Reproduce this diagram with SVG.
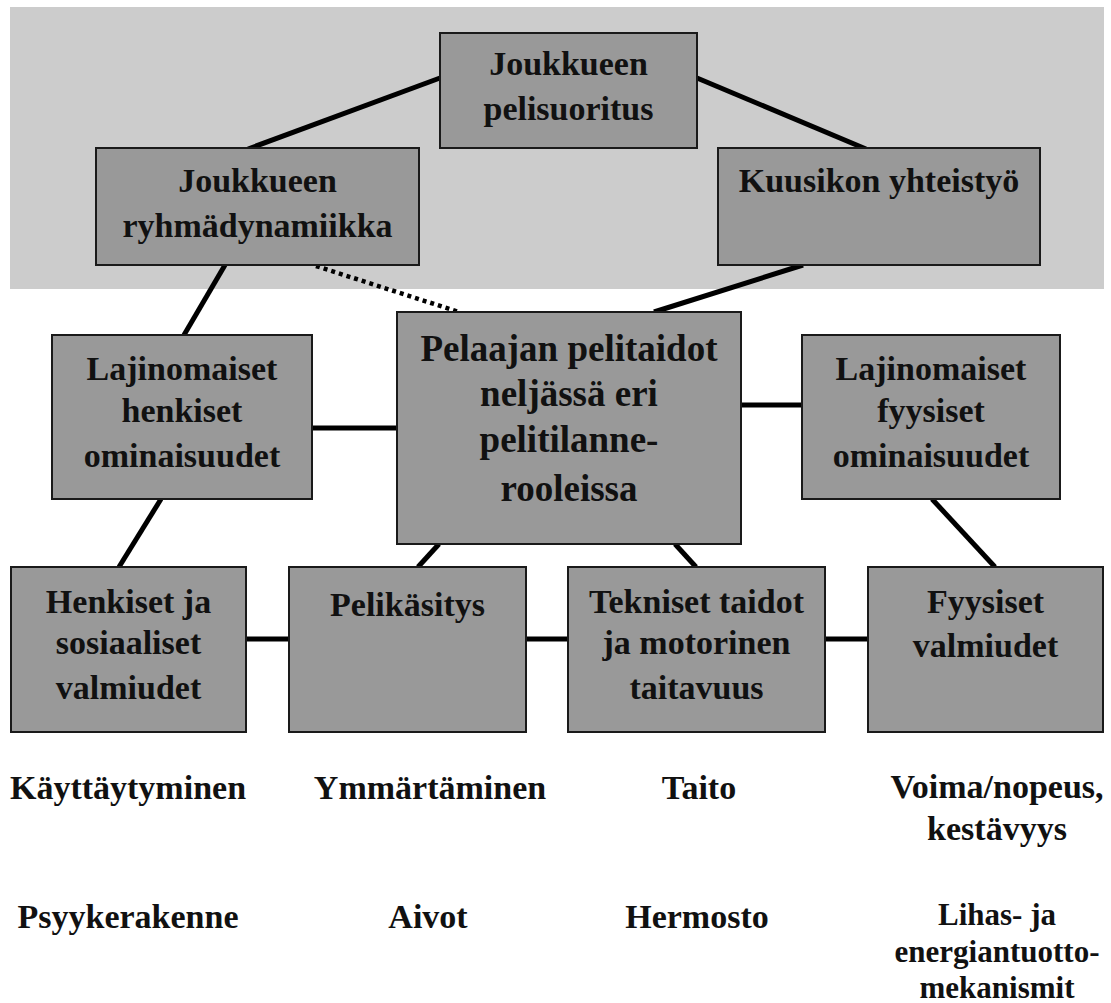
<svg xmlns="http://www.w3.org/2000/svg" width="1111" height="1003" viewBox="0 0 1111 1003">
<style>
.bg{fill:#cccccc}
.box{fill:#999999;stroke:#1a1a1a;stroke-width:2}
.t{font-family:"Liberation Serif","Times New Roman",serif;font-weight:bold;font-size:34px;fill:#111;text-anchor:middle}
.big{font-size:37px}
.sm{font-size:31px}
.c{stroke:#000;stroke-width:5;fill:none}
.d{stroke:#000;stroke-width:4.5;fill:none;stroke-dasharray:4 4}
</style>
<rect width="1111" height="1003" fill="#ffffff"/>
<rect class="bg" x="10" y="7" width="1094" height="282"/>
<g id="connectors">
<line class="c" x1="440" y1="78" x2="248" y2="149"/>
<line class="c" x1="697" y1="78" x2="866" y2="149"/>
<line class="c" x1="225" y1="265" x2="184" y2="335"/>
<line class="d" x1="316" y1="266" x2="459" y2="312"/>
<line class="c" x1="803" y1="265" x2="654" y2="312"/>
<line class="c" x1="312" y1="428" x2="397" y2="428"/>
<line class="c" x1="740" y1="405" x2="802" y2="405"/>
<line class="c" x1="161" y1="499" x2="119" y2="567"/>
<line class="c" x1="439" y1="544" x2="418" y2="567"/>
<line class="c" x1="675" y1="544" x2="696" y2="567"/>
<line class="c" x1="932" y1="499" x2="995" y2="567"/>
<line class="c" x1="246" y1="639" x2="289" y2="639"/>
<line class="c" x1="526" y1="639" x2="568" y2="639"/>
<line class="c" x1="825" y1="639" x2="868" y2="639"/>
</g>
<g id="n-pelisuoritus">
<rect class="box" x="440" y="33" width="257" height="115"/>
<text class="t" x="568.5" y="75">Joukkueen</text>
<text class="t" x="568.5" y="120">pelisuoritus</text>
</g>
<g id="n-ryhmadynamiikka">
<rect class="box" x="96" y="148" width="323" height="117"/>
<text class="t" x="257.5" y="192">Joukkueen</text>
<text class="t" x="257.5" y="237">ryhmädynamiikka</text>
</g>
<g id="n-kuusikon">
<rect class="box" x="718" y="148" width="322" height="117"/>
<text class="t" x="879" y="192">Kuusikon yhteistyö</text>
</g>
<g id="n-pelaajan">
<rect class="box" x="397" y="312" width="344" height="232"/>
<text class="t big" x="569" y="361">Pelaajan pelitaidot</text>
<text class="t big" x="569" y="406">neljässä eri</text>
<text class="t big" x="569" y="452">pelitilanne-</text>
<text class="t big" x="569" y="501">rooleissa</text>
</g>
<g id="n-henkiset-ominaisuudet">
<rect class="box" x="52" y="335" width="260" height="164"/>
<text class="t" x="182" y="380">Lajinomaiset</text>
<text class="t" x="182" y="422">henkiset</text>
<text class="t" x="182" y="467">ominaisuudet</text>
</g>
<g id="n-fyysiset-ominaisuudet">
<rect class="box" x="802" y="335" width="258" height="164"/>
<text class="t" x="931" y="380">Lajinomaiset</text>
<text class="t" x="931" y="422">fyysiset</text>
<text class="t" x="931" y="467">ominaisuudet</text>
</g>
<g id="n-henkiset-valmiudet">
<rect class="box" x="11" y="567" width="235" height="165"/>
<text class="t" x="128.5" y="613">Henkiset ja</text>
<text class="t" x="128.5" y="654">sosiaaliset</text>
<text class="t" x="128.5" y="699">valmiudet</text>
</g>
<g id="n-pelikasitys">
<rect class="box" x="289" y="567" width="237" height="165"/>
<text class="t" x="407.5" y="616">Pelikäsitys</text>
</g>
<g id="n-tekniset">
<rect class="box" x="568" y="567" width="257" height="165"/>
<text class="t" x="696.5" y="613">Tekniset taidot</text>
<text class="t" x="696.5" y="654">ja motorinen</text>
<text class="t" x="696.5" y="699">taitavuus</text>
</g>
<g id="n-fyysiset-valmiudet">
<rect class="box" x="868" y="567" width="235" height="165"/>
<text class="t" x="985.5" y="613">Fyysiset</text>
<text class="t" x="985.5" y="657">valmiudet</text>
</g>
<g id="labels">
<text class="t" x="128" y="799">Käyttäytyminen</text>
<text class="t" x="430" y="799">Ymmärtäminen</text>
<text class="t" x="699" y="799">Taito</text>
<text class="t" x="997" y="798">Voima/nopeus,</text>
<text class="t" x="997" y="840">kestävyys</text>
<text class="t" x="128" y="928">Psyykerakenne</text>
<text class="t" x="428" y="928">Aivot</text>
<text class="t" x="697" y="928">Hermosto</text>
<text class="t sm" x="997" y="925">Lihas- ja</text>
<text class="t sm" x="997" y="962">energiantuotto-</text>
<text class="t sm" x="997" y="998">mekanismit</text>
</g>
</svg>
